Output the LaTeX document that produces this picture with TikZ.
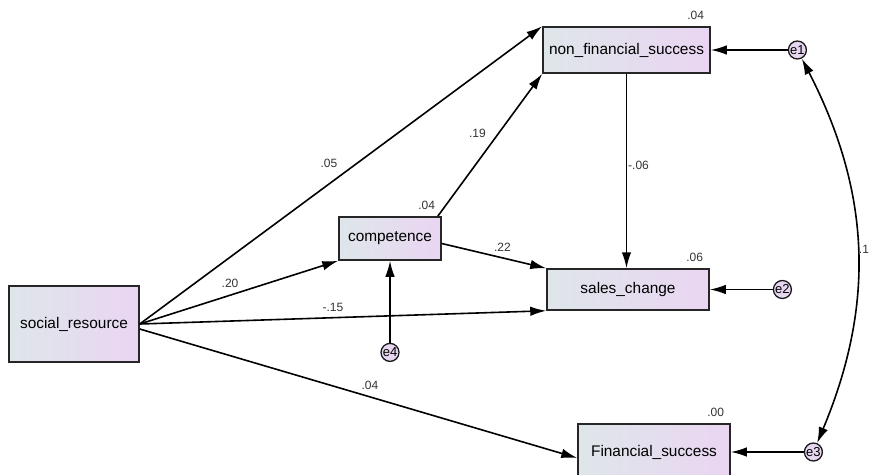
\documentclass[tikz,border=0pt]{standalone}
\usepackage{fontspec}
\setmainfont{Liberation Sans}
\usetikzlibrary{positioning,arrows.meta}
\tikzset{
	>={Latex[length=16pt,width=9.5pt]},
}
\definecolor{boxl}{RGB}{222,230,234}
\definecolor{boxr}{RGB}{234,213,242}
\definecolor{errf}{RGB}{230,214,240}

\begin{document}
\begin{tikzpicture}[
		x=1pt, y=-1pt,
		var/.style 2 args={
			rectangle, draw=black!85, line width=1.5pt,
			left color=boxl, right color=boxr,
			font=\fontsize{15.4}{18}\selectfont,
			inner sep=0pt,
			minimum width=#1, minimum height=#2,
		},
		err/.style={
			circle, draw=black!90, line width=1.3pt, fill=errf,
			minimum size=18pt, inner sep=0pt,
			font=\fontsize{13}{13}\selectfont,
		},
		lbl/.style={font=\fontsize{12}{12}\selectfont, text=black!80, inner sep=0pt},
		r2/.style={lbl, anchor=south east},
		line width=1.6pt,
	]
	\useasboundingbox (0,0) rectangle (869,474);
	\def\rsq#1#2{\node[r2] at ([xshift=-6pt,yshift=6pt]#1.north east) {#2};}
		\draw
			node(soc)[var={130}{76}] at (74,324) {social\_resource}
			node(comp)[var={102}{43}] at (390,238.5) {competence}
			node(nfs)[var={167}{46}] at (626.5,50) {non\_financial\_success}
			node(sales)[var={162}{41}] at (628,289.5) {sales\_change}
			node(fin)[var={152}{56}] at (654,452) {Financial\_success}
			node(e1)[err,right=77pt of nfs] {e1}
			node(e2)[err,right=63pt of sales] {e2}
			node(e3)[err,right=73pt of fin] {e3}
			node(e4)[err,below=82pt of comp] {e4}
		;
		\rsq{nfs}{.04}
		\rsq{comp}{.04}
		\rsq{sales}{.06}
		\rsq{fin}{.00}
		\draw[->] (soc.east) to node[lbl,pos=.47,yshift=21pt]{.05} (nfs.north west);
		\draw[->] ([xshift=-4pt]comp.north east) to node[lbl,pos=.58,xshift=-21pt]{.19} (nfs.south west);
		\draw[->] (soc.east) to node[lbl,pos=.455,yshift=12pt]{.20} (comp.south west);
		\draw[->] (soc.east) to node[lbl,pos=.475,yshift=10pt]{-.15} (sales.south west);
		\draw[->] ([yshift=-5pt]soc.east) to node[lbl,pos=.526,yshift=11pt]{.04} ([yshift=-6pt]fin.west);
		\draw[->] ([yshift=-5pt]comp.east) to node[lbl,pos=.58,yshift=11pt]{.22} (sales.north west);
		\draw[->] (nfs.south) to node[lbl,pos=.47,xshift=12pt]{-.06} (nfs.south |- sales.north);
		\draw[->] (e4) to (comp.south);
		\draw[->] (e1) to (nfs.east);
		\draw[->] (e2) to (sales.east);
		\draw[->] (e3) to (fin.east);
		\draw[<->] (e1) to[bend left=25] node[lbl,anchor=west,xshift=1pt]{.13} (e3);
	\end{tikzpicture}
\end{document}
